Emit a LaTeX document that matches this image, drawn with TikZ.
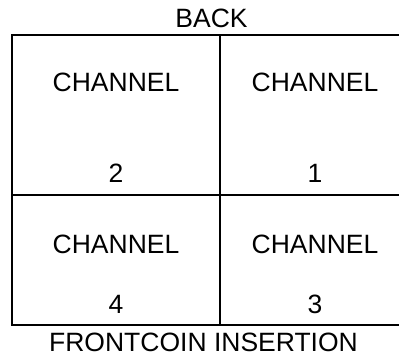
\documentclass[tikz,border=0pt]{standalone}
\usepackage{fontspec}
\setmainfont{Liberation Sans}
\begin{document}
\begin{tikzpicture}[x=1pt,y=-1pt,
  grid/.style={line width=2pt,line cap=rect},
  lbl/.style={font=\fontsize{26.5}{30}\selectfont,anchor=base,inner sep=0pt}]
\useasboundingbox (0,0) rectangle (399,358);
\begin{scope}
\clip (0,0) rectangle (399,358);
\draw[grid] (12,35) rectangle (410,324.5);
\draw[grid] (220,35) -- (220,324.5);
\draw[grid] (12,195.3) -- (410,195.3);
\end{scope}
\node[lbl] (back) at (211.5,28) {BACK};
\node[lbl] (front) at (203.5,351.7) {FRONTCOIN INSERTION};
\node[lbl] (c2) at (116,92) {CHANNEL};
\node[lbl] (n2) at (116,183) {2};
\node[lbl] (c1) at (315,92) {CHANNEL};
\node[lbl] (n1) at (315,183) {1};
\node[lbl] (c4) at (116,254) {CHANNEL};
\node[lbl] (n4) at (116,313) {4};
\node[lbl] (c3) at (315,254) {CHANNEL};
\node[lbl] (n3) at (315,313) {3};
\end{tikzpicture}
\end{document}
